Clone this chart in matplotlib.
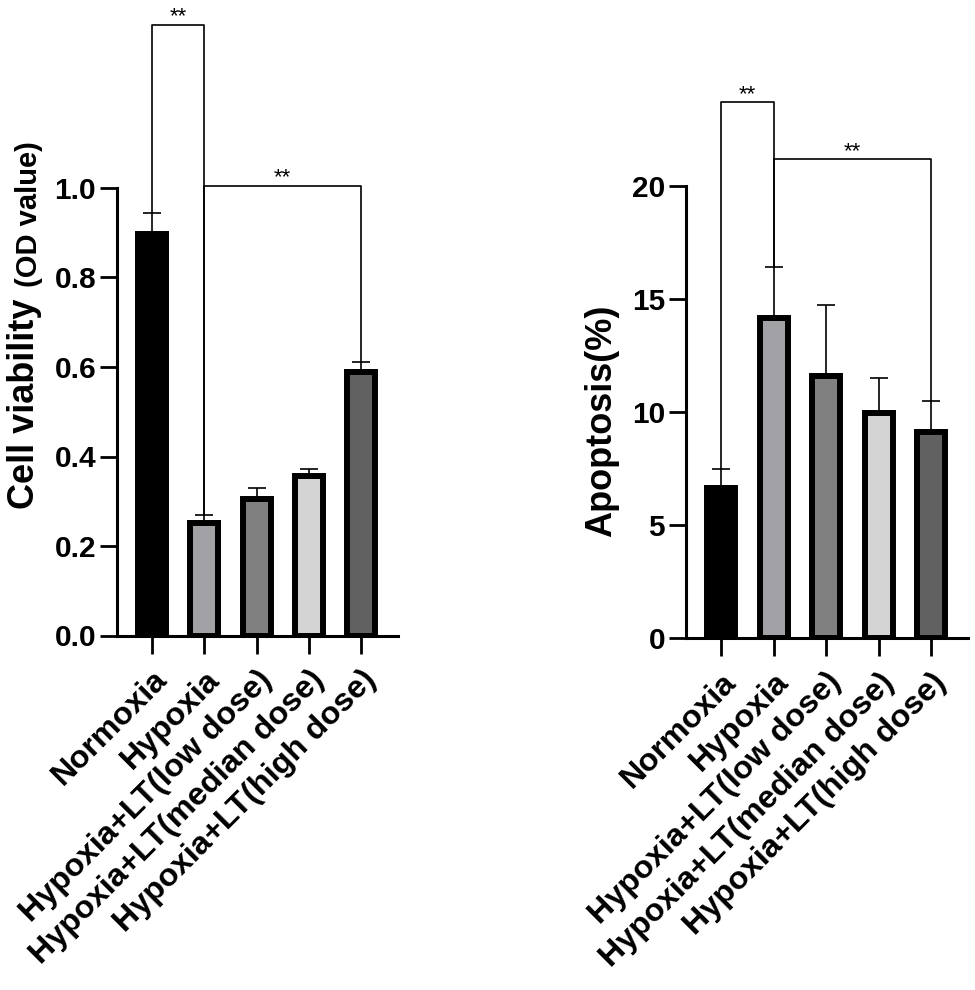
import matplotlib
matplotlib.use("Agg")
import matplotlib.pyplot as plt
import numpy as np

plt.rcParams['font.family'] = ['Liberation Sans', 'DejaVu Sans']
plt.rcParams['font.weight'] = 'bold'

categories = ["Normoxia", "Hypoxia", "Hypoxia+LT(low dose)",
              "Hypoxia+LT(median dose)", "Hypoxia+LT(high dose)"]
bar_colors = ["#000000", "#a2a2a6", "#808080", "#d4d4d4", "#616161"]

viability_mean = [0.898, 0.252, 0.305, 0.356, 0.588]
viability_upper = [0.945, 0.270, 0.330, 0.371, 0.612]
viability_ticks = [0.0, 0.2, 0.4, 0.6, 0.8, 1.0]
viability_sig = [(0, 1, 1.365), (1, 4, 1.005)]

apoptosis_mean = [6.65, 14.15, 11.6, 9.95, 9.1]
apoptosis_upper = [7.5, 16.4, 14.75, 11.5, 10.5]
apoptosis_ticks = [0, 5, 10, 15, 20]
apoptosis_sig = [(0, 1, 23.7), (1, 4, 21.2)]

W, H = 975, 990
fig = plt.figure(figsize=(W / 100, H / 100), dpi=100)


def px_axes(x0, x1, ytop, ybot):
    return fig.add_axes([x0 / W, 1 - ybot / H, (x1 - x0) / W, (ybot - ytop) / H])


def panel(ax, means, uppers, ticks, sig, fmt, ytop):
    x = np.arange(len(categories))
    err = np.array(uppers) - np.array(means)
    ax.errorbar(x, means, yerr=[np.zeros(len(x)), err], fmt='none',
                ecolor='black', elinewidth=1.2, capsize=6.5, capthick=1.2,
                zorder=1)
    ax.bar(x, means, width=0.53, color=bar_colors, edgecolor='black',
           linewidth=4.3, zorder=2)
    ax.set_xlim(-0.667, 4.70)
    ax.set_ylim(0, ytop)
    ax.set_yticks(ticks)
    ax.set_yticklabels([fmt.format(t) for t in ticks], fontsize=21.5,
                       fontweight='bold')
    ax.set_xticks(x)
    ax.set_xticklabels(categories, rotation=45, ha='right', va='top',
                       rotation_mode='anchor', fontsize=23.3, fontweight='bold')
    for s in ['top', 'right']:
        ax.spines[s].set_visible(False)
    for s in ['left', 'bottom']:
        ax.spines[s].set_linewidth(2.2)
    ax.tick_params(axis='y', length=12, width=2.0, pad=3)
    ax.tick_params(axis='x', length=13, width=2.0, pad=8)
    for (i, j, h) in sig:
        ax.plot([i, i, j, j], [uppers[i], h, h, uppers[j]], color='black',
                lw=1.2, clip_on=False, zorder=3)
        ax.annotate('**', xy=((i + j) / 2, h), xytext=(0, 1.5),
                    textcoords='offset points', ha='center', va='baseline',
                    fontsize=16, fontweight='normal', annotation_clip=False)


ax1 = px_axes(117, 398, 188, 635.5)
panel(ax1, viability_mean, viability_upper, viability_ticks, viability_sig,
      "{:.1f}", 1.0)
fig.text(25 / W, 1 - 404 / H, "Cell viability", rotation=90, ha='center',
         va='center', fontsize=26, fontweight='bold')
fig.text(29 / W, 1 - 214 / H, "(OD value)", rotation=90, ha='center',
         va='center', fontsize=21, fontweight='bold')

ax2 = px_axes(686, 968, 186, 638)
panel(ax2, apoptosis_mean, apoptosis_upper, apoptosis_ticks, apoptosis_sig,
      "{:d}", 20)
fig.text(602 / W, 1 - 421 / H, "Apoptosis(%)", rotation=90, ha='center',
         va='center', fontsize=26, fontweight='bold')

fig.savefig("out.png", dpi=100, facecolor='white')
